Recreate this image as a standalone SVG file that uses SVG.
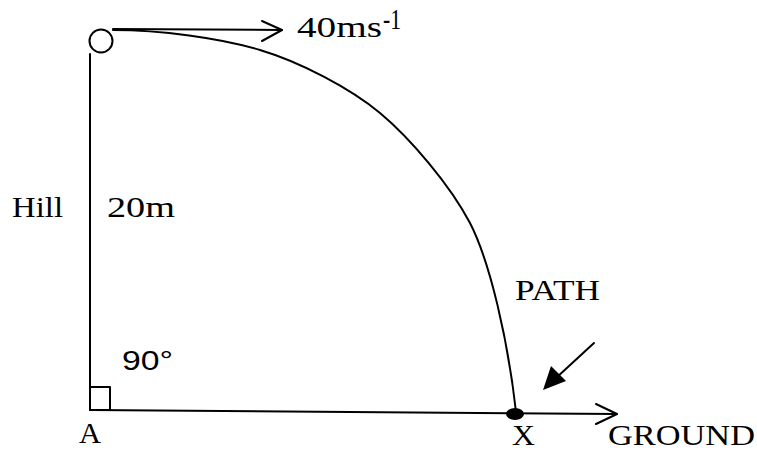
<svg xmlns="http://www.w3.org/2000/svg" width="757" height="452" viewBox="0 0 757 452">
<style>
.ln{fill:none;stroke:#000;stroke-width:2;stroke-linecap:round;stroke-linejoin:round}
.sf{font-family:"Liberation Serif","DejaVu Serif",serif;font-size:29px;fill:#000}
.ss{font-family:"Liberation Sans","DejaVu Sans",sans-serif;font-size:28px;fill:#000}
</style>
<rect width="757" height="452" fill="#fff"/>
<g id="ball"><circle cx="101" cy="41" r="11.5" class="ln"/></g>
<g id="hill"><line x1="90" y1="54" x2="90" y2="410" class="ln"/><rect x="90" y="387" width="20" height="23" class="ln" stroke-width="1.6"/></g>
<g id="pointX"><ellipse cx="515" cy="414" rx="9" ry="6" fill="#000"/></g>
<g id="connectors">
<line x1="113" y1="29" x2="282" y2="30" class="ln"/>
<polyline points="262,21 282,30 262,41" class="ln"/>
<line x1="90" y1="410" x2="617" y2="414" class="ln"/>
<polyline points="596,404 617,414 596,424" class="ln"/>
<path d="M113,30 C160,30 220,38 260,50 C300,62 350,88 380,113 C410,138 450,185 470,223 C490,262 508,340 516,412" class="ln"/>
<line x1="594" y1="343" x2="556" y2="378" class="ln"/>
<polygon points="543,390 551,366 566,381" fill="#000"/>
</g>
<g id="labels">
<text x="297" y="37" class="sf" textLength="85" lengthAdjust="spacingAndGlyphs">40ms</text>
<text x="383" y="29" class="sf" font-size="18" textLength="18" lengthAdjust="spacingAndGlyphs">-1</text>
<text x="12" y="217" class="sf" textLength="51" lengthAdjust="spacingAndGlyphs">Hill</text>
<text x="107" y="217" class="sf" textLength="68" lengthAdjust="spacingAndGlyphs">20m</text>
<text x="515" y="300" class="sf" textLength="85" lengthAdjust="spacingAndGlyphs">PATH</text>
<text x="122" y="370" class="ss" textLength="51" lengthAdjust="spacingAndGlyphs">90°</text>
<text x="79" y="443" class="sf" textLength="22" lengthAdjust="spacingAndGlyphs">A</text>
<text x="512" y="445" class="sf" font-size="27" textLength="23" lengthAdjust="spacingAndGlyphs">X</text>
<text x="608" y="445" class="sf" font-size="27" textLength="147" lengthAdjust="spacingAndGlyphs">GROUND</text>
</g>
</svg>
